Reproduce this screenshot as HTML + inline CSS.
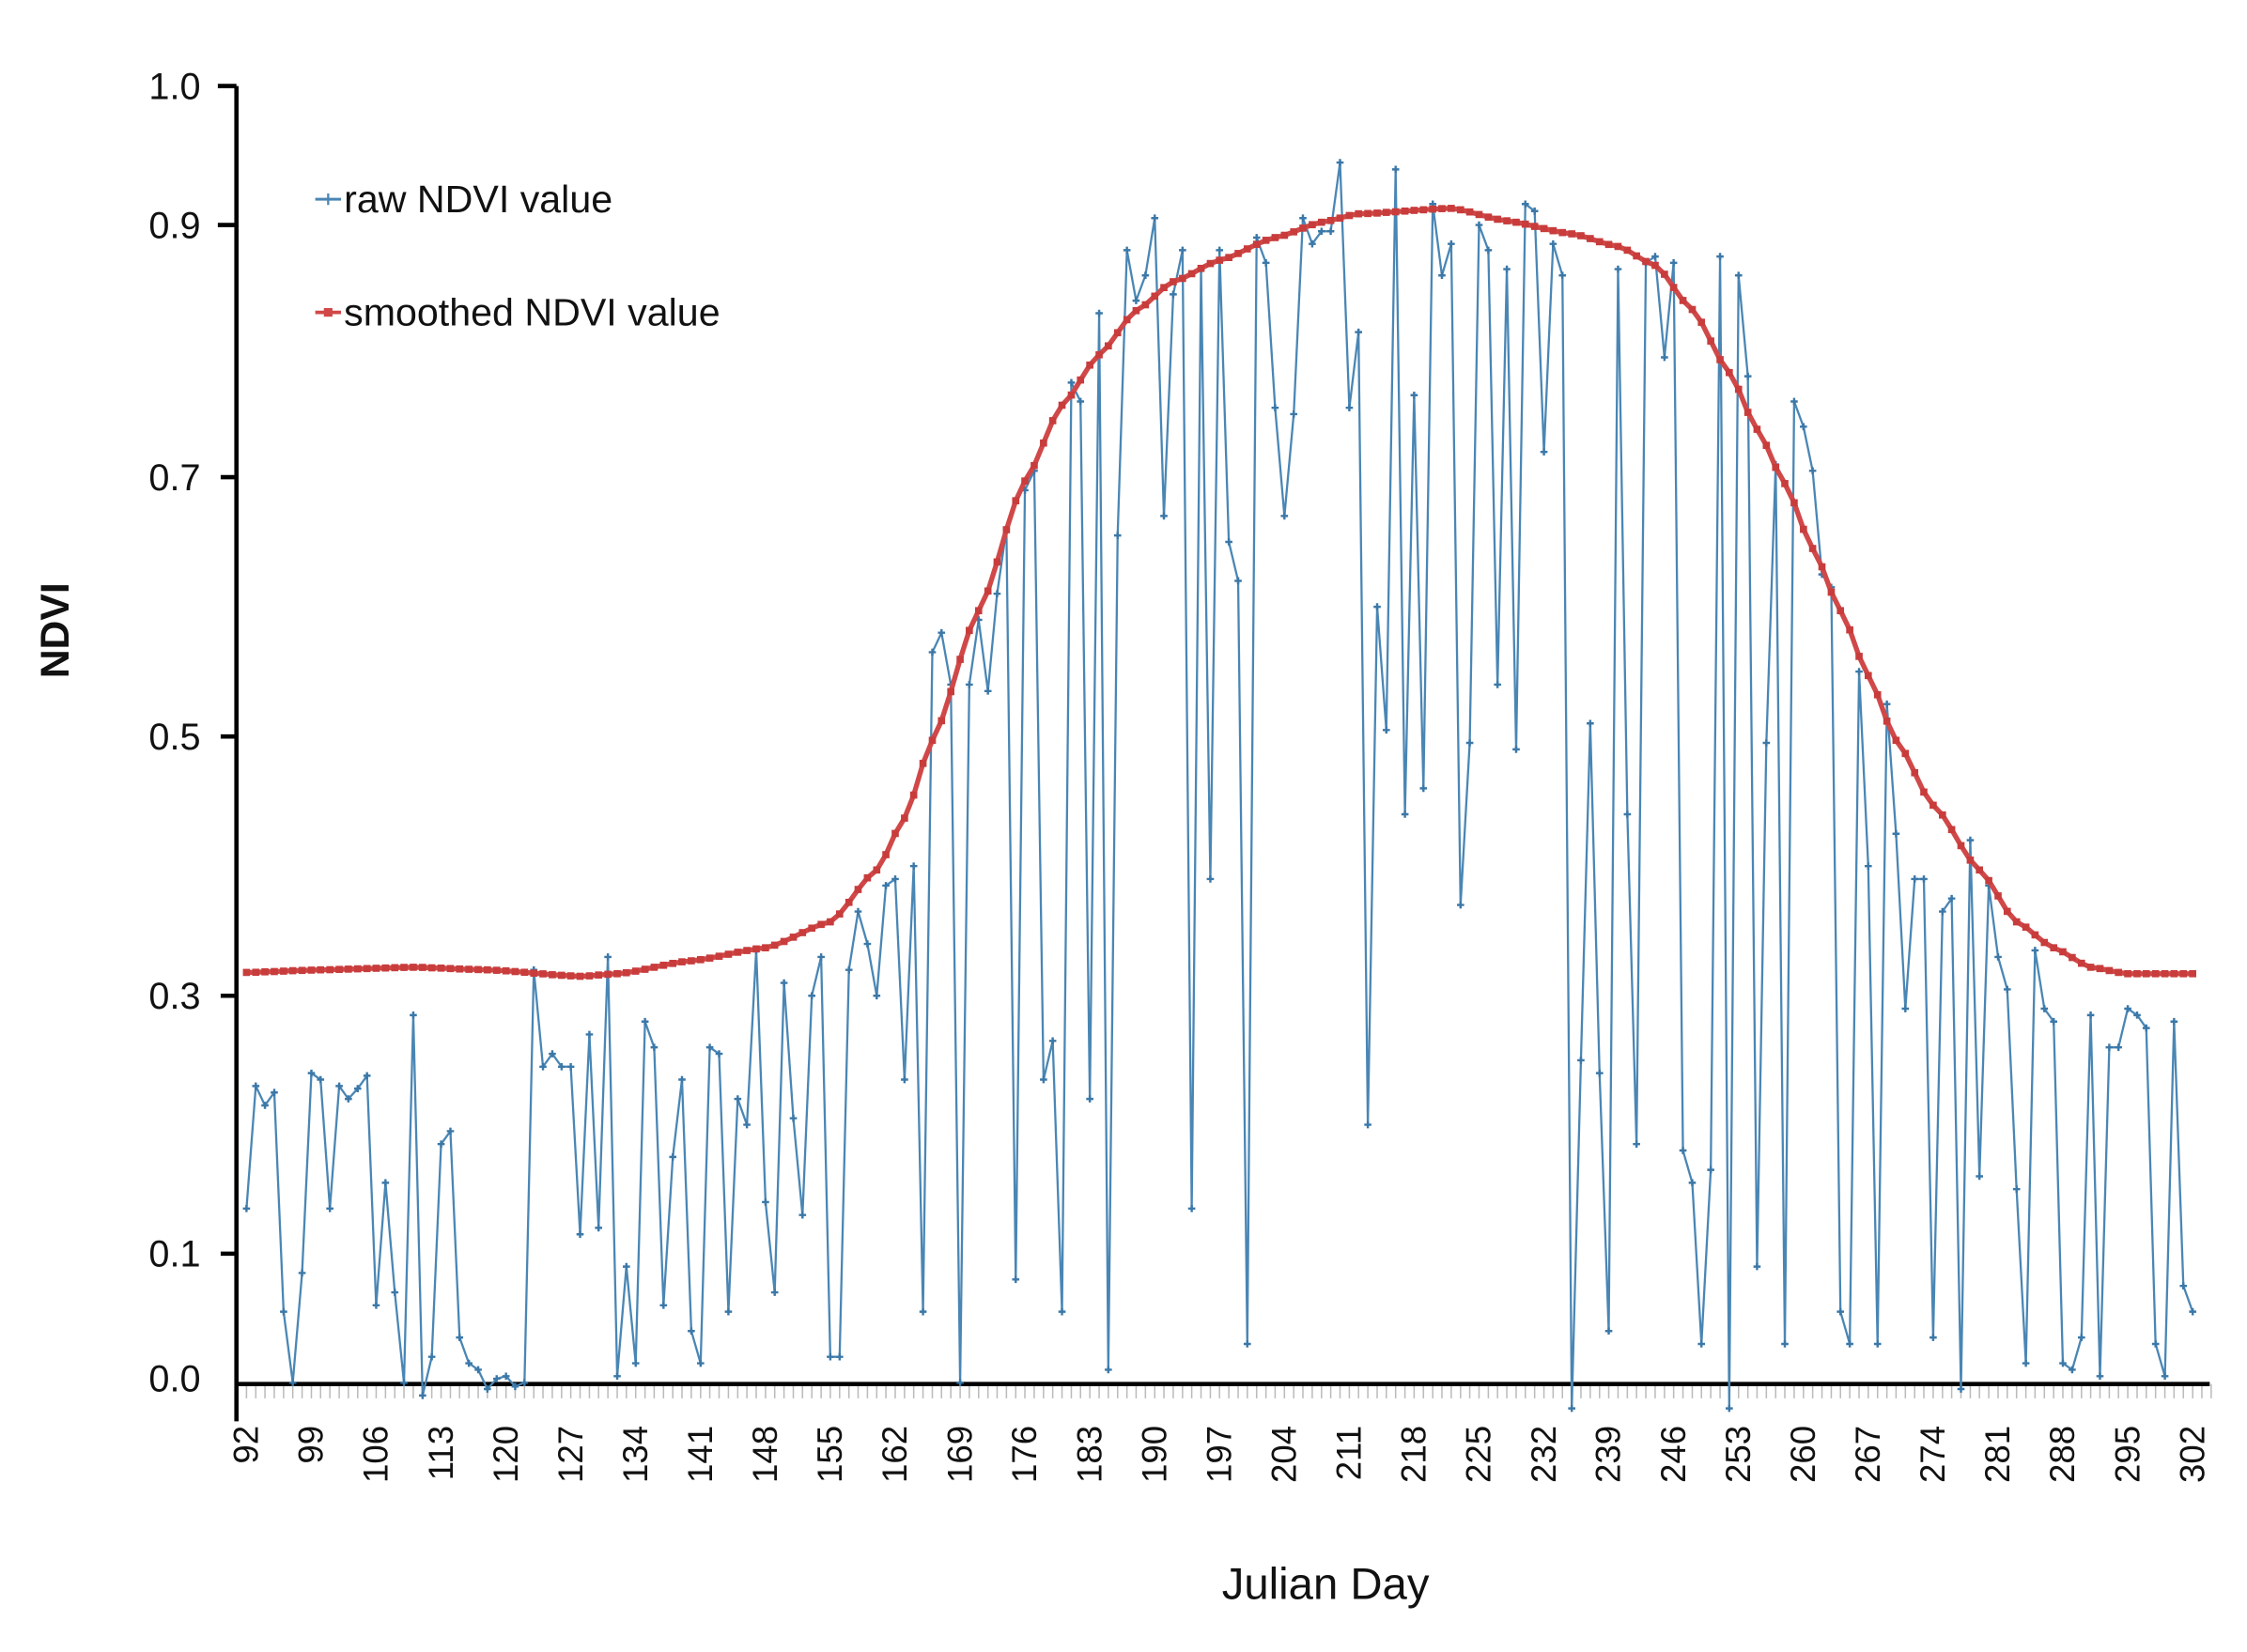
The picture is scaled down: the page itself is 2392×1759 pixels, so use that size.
<!DOCTYPE html>
<html><head><meta charset="utf-8"><style>
html,body{margin:0;padding:0;background:#fff;}
svg{display:block;}
text{font-family:"Liberation Sans",sans-serif;fill:#111;}
</style></head><body>
<svg id="s" width="2392" height="1759" viewBox="0 0 1568 1153" xmlns="http://www.w3.org/2000/svg">
<rect width="1568" height="1153" fill="#fff"/>
<g id="minor" stroke="#bbb" stroke-width="1"></g>
<line x1="165" y1="60" x2="165" y2="992" stroke="#000" stroke-width="3"/>
<line x1="164" y1="966" x2="1542" y2="966" stroke="#000" stroke-width="3"/>
<g stroke="#000" stroke-width="3">
<line x1="152" y1="60" x2="165" y2="60"/><line x1="152" y1="157" x2="165" y2="157"/>
<line x1="154" y1="333" x2="165" y2="333"/><line x1="154" y1="514" x2="165" y2="514"/>
<line x1="154" y1="695" x2="165" y2="695"/><line x1="154" y1="875" x2="165" y2="875"/>
</g>
<g font-size="26" text-anchor="end">
<text x="140" y="69">1.0</text><text x="140" y="166">0.9</text>
<text x="140" y="342">0.7</text><text x="140" y="523">0.5</text>
<text x="140" y="704">0.3</text><text x="140" y="884">0.1</text>
<text x="140" y="971">0.0</text>
</g>
<g id="xl" font-size="24"></g>
<text x="925" y="1116" font-size="31" text-anchor="middle">Julian Day</text>
<text transform="translate(48,440) rotate(-90)" font-size="28" font-weight="bold" text-anchor="middle">NDVI</text>
<g id="raw"></g>
<g id="sm"></g>
<line x1="220" y1="139" x2="238" y2="139" stroke="#4a86b4" stroke-width="2"/>
<path d="M229 135v8M225 139h8" stroke="#4a86b4" stroke-width="1.5"/>
<text x="240" y="148" font-size="27">raw NDVI value</text>
<line x1="220" y1="218" x2="238" y2="218" stroke="#d04848" stroke-width="2.5"/>
<rect x="226" y="215" width="6" height="6" fill="#d04848"/>
<text x="240" y="227" font-size="27">smoothed NDVI value</text>
</svg>
<script>
var NS="http://www.w3.org/2000/svg";
function X(d){return 172+(d-92)*6.467;}
var tk=[[-0.1,1055],[0,965],[0.1,875],[0.3,695],[0.5,514],[0.7,333],[0.9,157],[1.0,60]];
function Y(v){for(var i=0;i<tk.length-1;i++){if(v<=tk[i+1][0]||i==tk.length-2){var t=(v-tk[i][0])/(tk[i+1][0]-tk[i][0]);return tk[i][1]+(tk[i+1][1]-tk[i][1])*t;}}}
var raw=[0.135,0.23,0.215,0.225,0.055,0.0,0.085,0.24,0.235,0.135,0.23,0.22,0.228,0.238,0.06,0.155,0.07,0.0,0.285,-0.01,0.02,0.185,0.195,0.035,0.015,0.01,-0.005,0.003,0.005,-0.003,0.0,0.32,0.245,0.255,0.245,0.245,0.115,0.27,0.12,0.33,0.005,0.09,0.015,0.28,0.26,0.06,0.175,0.235,0.04,0.015,0.26,0.255,0.055,0.22,0.2,0.335,0.14,0.07,0.31,0.205,0.13,0.30,0.33,0.02,0.02,0.32,0.365,0.34,0.30,0.385,0.39,0.235,0.40,0.055,0.565,0.58,0.54,0.0,0.54,0.59,0.535,0.61,0.66,0.08,0.69,0.705,0.235,0.265,0.055,0.775,0.76,0.22,0.83,0.01,0.655,0.88,0.84,0.86,0.905,0.67,0.845,0.88,0.135,0.865,0.39,0.88,0.65,0.62,0.03,0.89,0.87,0.755,0.67,0.75,0.905,0.885,0.895,0.895,0.945,0.755,0.815,0.20,0.60,0.505,0.94,0.44,0.765,0.46,0.915,0.86,0.885,0.37,0.495,0.90,0.88,0.54,0.865,0.49,0.915,0.91,0.72,0.885,0.86,-0.02,0.25,0.51,0.24,0.04,0.865,0.44,0.185,0.87,0.875,0.795,0.87,0.18,0.155,0.03,0.165,0.875,-0.02,0.86,0.78,0.09,0.495,0.71,0.03,0.76,0.74,0.705,0.625,0.615,0.055,0.03,0.55,0.40,0.03,0.525,0.425,0.29,0.39,0.39,0.035,0.365,0.375,-0.005,0.42,0.16,0.385,0.33,0.305,0.15,0.015,0.335,0.29,0.28,0.015,0.01,0.035,0.285,0.005,0.26,0.26,0.29,0.285,0.275,0.03,0.005,0.28,0.075,0.055];
var kp=[[92,0.318],[100,0.32],[110,0.322],[118,0.32],[128,0.315],[132,0.317],[140,0.327],[148,0.337],[155,0.357],[160,0.397],[163,0.437],[166,0.497],[171,0.597],[176,0.697],[180,0.757],[184,0.797],[188,0.832],[192,0.855],[197,0.872],[203,0.89],[208,0.902],[212,0.908],[222,0.912],[228,0.903],[235,0.893],[240,0.883],[244,0.868],[248,0.833],[252,0.783],[255,0.738],[258,0.695],[261,0.645],[264,0.597],[267,0.547],[270,0.497],[274,0.447],[279,0.397],[283,0.357],[287,0.337],[291,0.322],[295,0.317],[302,0.317]];
function sm(d){for(var i=0;i<kp.length-1;i++){if(d>=kp[i][0]&&d<=kp[i+1][0]){var t=(d-kp[i][0])/(kp[i+1][0]-kp[i][0]);var s=t*t*(3-2*t);var u=0.5*t+0.5*s;return kp[i][1]+(kp[i+1][1]-kp[i][1])*u;}}return 0.32;}
var p="",m="";
for(var d=92;d<=302;d++){var x=X(d),y=Y(raw[d-92]);p+=(d==92?"M":"L")+x.toFixed(1)+" "+y.toFixed(1);m+="M"+(x-2.5).toFixed(1)+" "+y.toFixed(1)+"h5M"+x.toFixed(1)+" "+(y-2.5).toFixed(1)+"v5";}
document.getElementById("raw").innerHTML='<path d="'+p+'" fill="none" stroke="#4a86b4" stroke-width="1.5"/><path d="'+m+'" stroke="#3b78a8" stroke-width="1.6"/>';
var q="",r="";
for(var d=92;d<=302;d++){var x=X(d),y=Y(sm(d));q+=(d==92?"M":"L")+x.toFixed(1)+" "+y.toFixed(1);r+='<rect x="'+(x-2.5).toFixed(1)+'" y="'+(y-2.5).toFixed(1)+'" width="5" height="5"/>';}
document.getElementById("sm").innerHTML='<path d="'+q+'" fill="none" stroke="#d04848" stroke-width="3.5"/><g fill="#c83c3c">'+r+'</g>';
var mn="";for(var d=92;d<=304;d++){var x=X(d);mn+='<line x1="'+x.toFixed(1)+'" y1="966" x2="'+x.toFixed(1)+'" y2="976"/>';}
document.getElementById("minor").innerHTML=mn;
var xl="";for(var d=92;d<=302;d+=7){var x=X(d)+8;xl+='<text transform="translate('+x.toFixed(1)+',995) rotate(-90)" text-anchor="end">'+d+'</text>';}
document.getElementById("xl").innerHTML=xl;
</script>
</body></html>
